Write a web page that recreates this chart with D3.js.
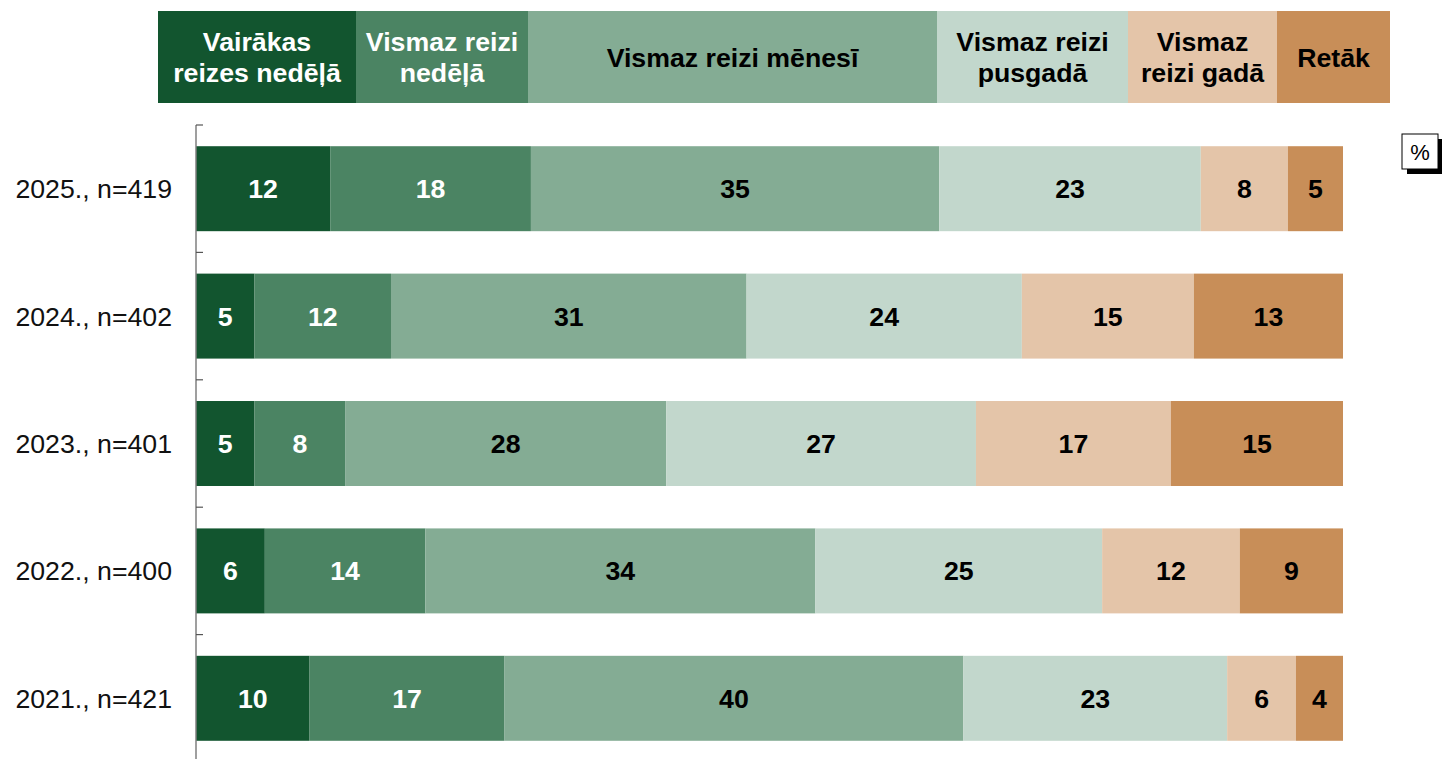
<!DOCTYPE html>
<html>
<head>
<meta charset="utf-8">
<script src="https://cdn.jsdelivr.net/npm/d3@7"></script>
<style>
  body { margin: 0; background: #fff; }
  svg { display: block; font-family: "Liberation Sans", Arial, sans-serif; }
</style>
</head>
<body>
<div id="chart"></div>
<script>
// categories (legend order) and rows (top to bottom)
const categories = [
  "Vairākas reizes nedēļā",
  "Vismaz reizi nedēļā",
  "Vismaz reizi mēnesī",
  "Vismaz reizi pusgadā",
  "Vismaz reizi gadā",
  "Retāk"
];
const legendLines = [
  ["Vairākas", "reizes nedēļā"],
  ["Vismaz reizi", "nedēļā"],
  ["Vismaz reizi mēnesī"],
  ["Vismaz reizi", "pusgadā"],
  ["Vismaz", "reizi gadā"],
  ["Retāk"]
];
const rows = ["2025., n=419", "2024., n=402", "2023., n=401", "2022., n=400", "2021., n=421"];

// shares (%)
const values2025 = [11.7, 17.5, 35.6, 22.8, 7.6, 4.8];
const values2024 = [5.1, 11.9, 31.0, 24.0, 15.0, 13.0];
const values2023 = [5.1, 7.9, 28.0, 27.0, 17.0, 15.0];
const values2022 = [6.0, 14.0, 34.0, 25.0, 12.0, 9.0];
const values2021 = [9.9, 17.0, 40.0, 23.0, 6.0, 4.1];

// printed labels
const labels2025 = [12, 18, 35, 23, 8, 5];
const labels2024 = [5, 12, 31, 24, 15, 13];
const labels2023 = [5, 8, 28, 27, 17, 15];
const labels2022 = [6, 14, 34, 25, 12, 9];
const labels2021 = [10, 17, 40, 23, 6, 4];

const colors = ["#12552f", "#4b8463", "#84ac94", "#c2d7cc", "#e4c5a9", "#c88e58"];
const textColors = ["#fff", "#fff", "#000", "#000", "#000", "#000"];

const allValues = [values2025, values2024, values2023, values2022, values2021];
const allLabels = [labels2025, labels2024, labels2023, labels2022, labels2021];

const data = rows.map((r, i) => {
  const o = { row: r };
  categories.forEach((c, j) => { o[c] = allValues[i][j]; o["lbl" + j] = allLabels[i][j]; });
  return o;
});

const width = 1442;
const height = 759;
const fontSize = "26.7px";

const svg = d3.select("#chart")
  .append("svg")
  .attr("width", width)
  .attr("height", height);

const x = d3.scaleLinear()
  .domain([0, 100])
  .range([196, 1343]);

const y = d3.scaleBand()
  .domain(rows)
  .range([125, 125 + 127.4 * rows.length])
  .paddingInner(0.333)
  .paddingOuter(0.1665);

const stacked = d3.stack().keys(categories)(data);

// bars
const layers = svg.append("g")
  .selectAll("g")
  .data(stacked)
  .join("g")
  .attr("fill", (d, i) => colors[i]);

layers.selectAll("rect")
  .data(d => d)
  .join("rect")
  .attr("x", d => x(d[0]))
  .attr("y", d => y(d.data.row))
  .attr("width", d => x(d[1]) - x(d[0]))
  .attr("height", y.bandwidth());

// bar labels
stacked.forEach((layer, j) => {
  svg.append("g")
    .selectAll("text")
    .data(layer)
    .join("text")
    .attr("x", d => (x(d[0]) + x(d[1])) / 2)
    .attr("y", d => y(d.data.row) + y.bandwidth() / 2 + 9.5)
    .attr("text-anchor", "middle")
    .attr("font-size", fontSize)
    .attr("font-weight", "bold")
    .attr("fill", textColors[j])
    .text(d => d.data["lbl" + j]);
});

// y axis
const step = y.step();
const axis = svg.append("g");
axis.append("line")
  .attr("x1", 196).attr("x2", 196)
  .attr("y1", 125).attr("y2", height)
  .attr("stroke", "#7f7f7f")
  .attr("stroke-width", 1.5);
rows.forEach(r => {
  const ty = y(r) - step * 0.1665;
  axis.append("line")
    .attr("x1", 196).attr("x2", 203)
    .attr("y1", ty).attr("y2", ty)
    .attr("stroke", "#555")
    .attr("stroke-width", 1.2);
});
axis.selectAll("text.rowlabel")
  .data(rows)
  .join("text")
  .attr("class", "rowlabel")
  .attr("x", 172)
  .attr("y", d => y(d) + y.bandwidth() / 2 + 9.5)
  .attr("text-anchor", "end")
  .attr("font-size", fontSize)
  .attr("fill", "#111")
  .text(d => d);

// legend header boxes
const legendEdges = [158, 356, 528, 937, 1128, 1277, 1390];
const legend = svg.append("g");
categories.forEach((c, i) => {
  const x0 = legendEdges[i], x1 = legendEdges[i + 1];
  legend.append("rect")
    .attr("x", x0).attr("y", 11)
    .attr("width", x1 - x0).attr("height", 92)
    .attr("fill", colors[i]);
  const lines = legendLines[i];
  const t = legend.append("text")
    .attr("text-anchor", "middle")
    .attr("font-size", fontSize)
    .attr("font-weight", "bold")
    .attr("fill", textColors[i]);
  lines.forEach((ln, k) => {
    t.append("tspan")
      .attr("x", (x0 + x1) / 2)
      .attr("y", 57 + 9.5 + (k - (lines.length - 1) / 2) * 31)
      .text(ln);
  });
});

// unit box
const unit = svg.append("g");
unit.append("rect")
  .attr("x", 1407).attr("y", 139)
  .attr("width", 36).attr("height", 35)
  .attr("fill", "#000");
unit.append("rect")
  .attr("x", 1402).attr("y", 134)
  .attr("width", 36).attr("height", 35)
  .attr("fill", "#fff")
  .attr("stroke", "#000")
  .attr("stroke-width", 1);
unit.append("text")
  .attr("x", 1420).attr("y", 160)
  .attr("text-anchor", "middle")
  .attr("font-size", "22px")
  .attr("fill", "#000")
  .text("%");
</script>
</body>
</html>
